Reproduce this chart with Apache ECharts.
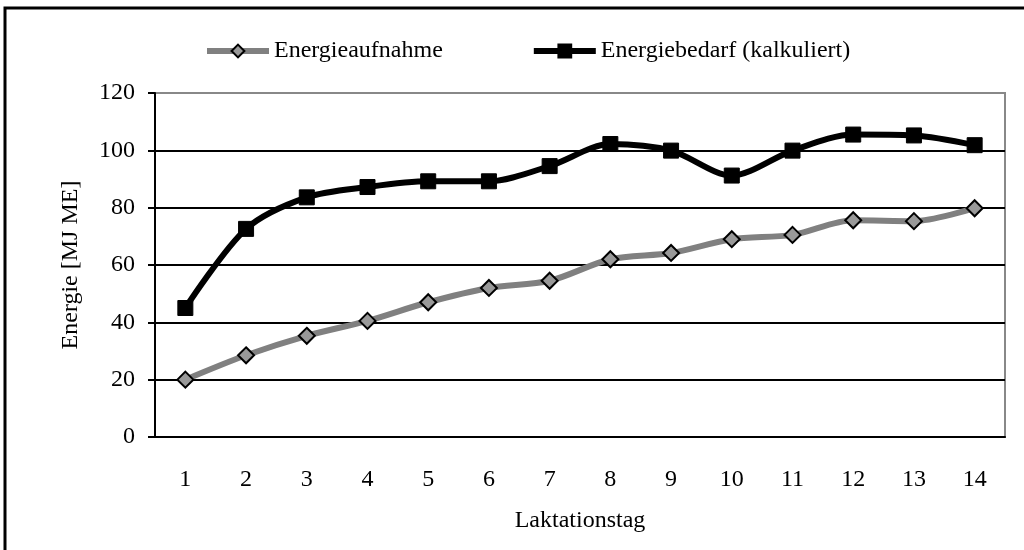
<!DOCTYPE html>
<html>
<head>
    <meta charset="utf-8" />
    <title>Energieaufnahme und Energiebedarf</title>
    <script type="text/javascript" src="https://cdn.jsdelivr.net/npm/echarts@6/dist/echarts.min.js"></script>
    <style>
        body { margin: 0; background: #fff; }
    </style>
</head>
<body>
<div id="main" style="width: 1024px;height:550px;"></div>
<script type="text/javascript">
    // Daten
    var tage = ['1', '2', '3', '4', '5', '6', '7', '8', '9', '10', '11', '12', '13', '14'];
    var aufnahme = [20, 28.5, 35.3, 40.5, 47, 52, 54.5, 62, 64.2, 69, 70.5, 75.6, 75.3, 79.8];
    var bedarf = [45, 72.6, 83.6, 87.2, 89.2, 89.2, 94.5, 102.2, 99.9, 91.2, 99.9, 105.5, 105.2, 101.8];

    var schrift = 'Liberation Serif';
    var groesse = 24;
    var myChart = echarts.init(document.getElementById('main'));
    var option = {
        animation: false,
        textStyle: { fontFamily: schrift },
        graphic: [{
            type: 'rect',
            shape: { x: 5, y: 8, width: 1200, height: 700 },
            style: { fill: 'none', stroke: '#000', lineWidth: 3 }
        }],
        legend: {
            top: 34,
            left: 199,
            itemWidth: 62,
            itemHeight: 16,
            itemGap: 88,
            textStyle: { fontFamily: schrift, fontSize: groesse, color: '#000' },
            data: [
                { name: 'Energieaufnahme', lineStyle: { width: 6 } },
                { name: 'Energiebedarf (kalkuliert)', lineStyle: { width: 6 } }
            ]
        },
        grid: {
            left: 155,
            right: 19,
            top: 93,
            bottom: 113,
            show: true,
            borderColor: '#888',
            borderWidth: 2
        },
        xAxis: {
            type: 'category',
            data: tage,
            boundaryGap: true,
            name: 'Laktationstag',
            nameLocation: 'middle',
            nameGap: 72,
            nameTextStyle: { fontSize: groesse, color: '#000' },
            axisLine: { lineStyle: { color: '#000', width: 2 } },
            axisTick: { length: 8, lineStyle: { color: '#000', width: 2 } },
            axisLabel: { fontSize: groesse, color: '#000', margin: 31 }
        },
        yAxis: {
            type: 'value',
            min: 0,
            max: 120,
            interval: 20,
            name: 'Energie [MJ ME]',
            nameLocation: 'middle',
            nameGap: 72,
            nameTextStyle: { fontSize: groesse, color: '#000' },
            axisLine: { show: true, lineStyle: { color: '#000', width: 2 } },
            axisTick: { show: true, length: 7, lineStyle: { color: '#000', width: 2 } },
            axisLabel: { fontSize: groesse, color: '#000', margin: 20 },
            splitLine: {
                lineStyle: {
                    color: ['#000', '#000', '#000', '#000', '#000', '#000', '#888'],
                    width: 2
                }
            }
        },
        series: [
            {
                name: 'Energieaufnahme',
                type: 'line',
                smooth: 0.3,
                data: aufnahme,
                symbol: 'diamond',
                symbolSize: 16,
                lineStyle: { color: '#808080', width: 6 },
                itemStyle: { color: '#999', borderColor: '#000', borderWidth: 2 },
                z: 3
            },
            {
                name: 'Energiebedarf (kalkuliert)',
                type: 'line',
                smooth: 0.3,
                data: bedarf,
                symbol: 'rect',
                symbolSize: 15,
                lineStyle: { color: '#000', width: 6 },
                itemStyle: { color: '#000', borderColor: '#000', borderWidth: 1 },
                z: 4
            }
        ]
    };
    myChart.setOption(option);
</script>
</body>
</html>
